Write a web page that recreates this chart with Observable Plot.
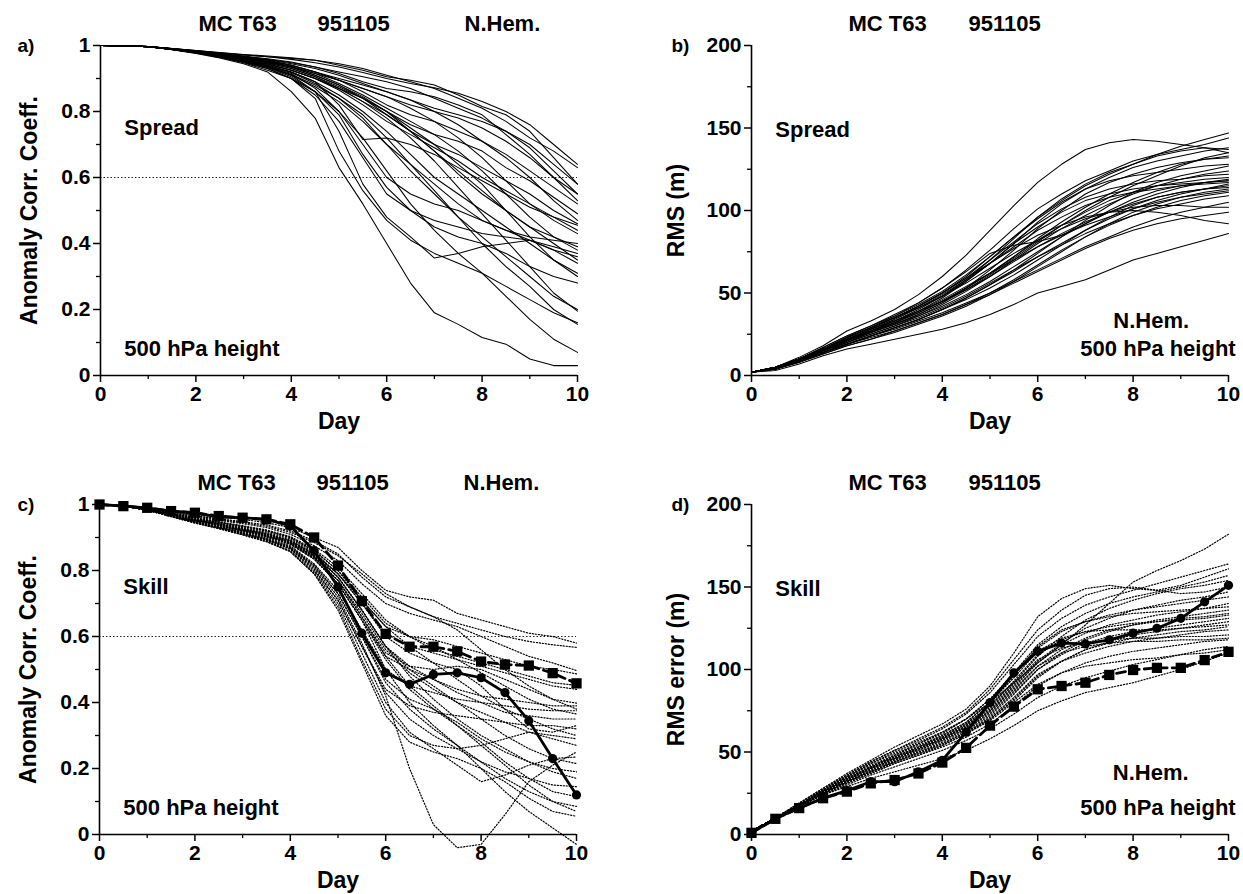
<!DOCTYPE html>
<html><head><meta charset="utf-8">
<script src="https://cdn.jsdelivr.net/npm/d3@7"></script>
<script src="https://cdn.jsdelivr.net/npm/@observablehq/plot@0.6"></script>
<style>
body{margin:0;background:#fff;}
#wrap{position:relative;width:1243px;height:894px;overflow:hidden;background:#fff;}
#wrap svg{position:absolute;}
</style></head><body><div id="wrap"></div>
<script>
// ---- data (days at 12-hour steps) ----
const days = [0,0.5,1,1.5,2,2.5,3,3.5,4,4.5,5,5.5,6,6.5,7,7.5,8,8.5,9,9.5,10];
const majorDays = [0,2,4,6,8,10];
const minorDays = [1,3,5,7,9];
const accTicks = [0,0.2,0.4,0.6,0.8,1];
const accMinor = [0.1,0.3,0.5,0.7,0.9];
const rmsTicks = [0,50,100,150,200];
const rmsMinor = [25,75,125,175];

// a) anomaly correlation, spread (ensemble members vs control)
const accSpread = [
[1,.999,.997,.991,.984,.977,.971,.966,.961,.955,.945,.93,.91,.89,.87,.84,.81,.77,.72,.68,.63],
[1,.999,.997,.991,.985,.979,.973,.968,.963,.955,.94,.925,.905,.895,.88,.85,.815,.79,.74,.66,.58],
[1,.999,.996,.99,.982,.974,.965,.955,.94,.92,.9,.88,.86,.835,.81,.79,.77,.74,.7,.64,.58],
[1,.999,.996,.989,.981,.972,.962,.95,.935,.915,.895,.87,.845,.82,.8,.78,.75,.71,.66,.6,.55],
[1,.999,.997,.99,.983,.976,.968,.96,.95,.935,.915,.89,.87,.86,.845,.82,.79,.73,.67,.6,.53],
[1,.999,.996,.99,.982,.973,.963,.952,.94,.92,.895,.86,.82,.79,.77,.74,.71,.67,.62,.57,.52],
[1,.999,.996,.989,.98,.97,.958,.945,.925,.9,.87,.84,.8,.76,.73,.71,.68,.63,.59,.54,.49],
[1,.999,.997,.99,.983,.975,.966,.957,.945,.93,.91,.885,.86,.835,.8,.76,.71,.66,.6,.53,.47],
[1,.999,.996,.989,.981,.972,.962,.95,.935,.91,.88,.84,.79,.74,.7,.67,.63,.59,.55,.5,.46],
[1,.999,.996,.988,.979,.968,.955,.94,.92,.89,.82,.715,.72,.7,.67,.63,.59,.55,.51,.48,.455],
[1,.999,.996,.989,.98,.97,.958,.944,.925,.9,.865,.82,.77,.73,.69,.65,.6,.56,.52,.48,.44],
[1,.999,.997,.99,.982,.974,.965,.955,.94,.92,.895,.87,.845,.81,.77,.72,.66,.59,.52,.47,.43],
[1,.999,.996,.988,.978,.966,.952,.935,.91,.875,.83,.77,.7,.64,.58,.52,.47,.44,.42,.41,.40],
[1,.999,.996,.989,.98,.969,.957,.943,.925,.9,.87,.83,.79,.74,.68,.62,.56,.5,.45,.42,.39],
[1,.999,.997,.99,.982,.973,.963,.952,.937,.915,.885,.85,.81,.77,.73,.68,.62,.55,.48,.42,.38],
[1,.999,.996,.988,.978,.967,.954,.938,.915,.87,.8,.7,.6,.55,.52,.5,.47,.44,.41,.39,.37],
[1,.999,.996,.988,.977,.965,.95,.93,.9,.85,.77,.66,.55,.5,.47,.45,.43,.42,.41,.38,.36],
[1,.999,.997,.99,.982,.973,.963,.95,.935,.91,.88,.845,.8,.74,.68,.61,.55,.5,.45,.4,.35],
[1,.999,.996,.988,.978,.966,.952,.935,.91,.86,.74,.58,.48,.42,.356,.37,.39,.4,.41,.38,.34],
[1,.999,.996,.989,.98,.969,.956,.94,.92,.89,.85,.8,.74,.67,.6,.55,.5,.45,.4,.35,.31],
[1,.999,.997,.99,.982,.972,.961,.948,.93,.905,.875,.84,.8,.75,.7,.64,.58,.5,.42,.35,.30],
[1,.999,.996,.988,.978,.966,.951,.933,.905,.86,.79,.67,.57,.5,.45,.42,.4,.37,.33,.3,.28],
[1,.999,.996,.989,.979,.968,.955,.94,.918,.885,.84,.78,.7,.62,.55,.48,.42,.36,.3,.24,.20],
[1,.999,.997,.99,.981,.971,.96,.947,.93,.905,.87,.83,.78,.72,.65,.57,.49,.41,.33,.25,.195],
[1,.999,.996,.988,.977,.964,.948,.925,.9,.84,.68,.56,.47,.41,.37,.34,.31,.27,.23,.19,.16],
[1,.999,.996,.989,.979,.967,.953,.936,.912,.88,.84,.79,.72,.64,.56,.48,.4,.33,.27,.2,.155],
[1,.999,.996,.988,.978,.965,.95,.93,.9,.86,.8,.72,.62,.52,.44,.37,.31,.24,.17,.11,.07],
[1,.999,.996,.987,.976,.962,.945,.92,.86,.78,.63,.52,.4,.28,.19,.155,.115,.095,.05,.03,.03],
[1,.999,.997,.991,.985,.978,.972,.966,.958,.948,.935,.918,.9,.885,.872,.855,.83,.8,.76,.7,.64],
[1,.999,.997,.99,.983,.975,.967,.958,.948,.935,.92,.905,.89,.87,.84,.81,.78,.74,.69,.62,.55]
];

// b) rms difference (m), spread
const rmsSpread = [
[2,5,11,18,27,33,40,49,60,73,88,103,117,128,137,141,143,142,140,138,135],
[2,5,10,16,23,29,35,42,50,60,72,84,96,106,115,122,128,134,139,143,147],
[2,5,10,17,24,30,37,44,53,64,76,89,101,110,118,124,130,134,137,140,144],
[2,5,10,16,23,29,35,41,48,57,68,80,93,104,113,120,126,130,133,136,138],
[2,4,9,15,21,27,33,40,48,58,70,83,96,107,116,123,128,133,136,138,137],
[2,5,10,16,22,27,32,38,45,53,62,72,82,91,100,108,115,121,127,132,135],
[2,4,9,15,21,26,31,37,44,53,64,76,89,100,110,117,122,126,129,131,132],
[2,5,10,17,24,30,36,43,51,61,72,84,95,105,113,118,121,123,125,127,128],
[2,4,9,14,20,25,30,36,43,51,60,70,80,89,97,104,110,115,119,122,124],
[2,5,10,16,23,29,35,42,50,59,70,81,92,101,108,113,116,118,119,121,122],
[2,4,9,15,21,26,31,36,42,49,57,66,75,84,92,99,105,110,114,117,119],
[2,5,10,16,22,28,34,41,49,58,68,78,88,96,103,108,111,113,115,117,118],
[2,4,9,14,19,24,29,34,40,47,55,63,72,80,88,95,101,106,110,113,116],
[2,4,8,14,19,24,29,34,40,46,53,61,70,79,88,96,103,108,111,113,114],
[2,5,10,16,22,27,33,39,46,54,62,70,78,85,91,96,101,105,108,110,112],
[2,4,9,15,20,25,30,35,41,48,56,64,72,79,86,92,97,102,106,109,111],
[2,4,9,14,19,24,28,33,38,44,50,57,64,71,78,84,90,95,99,102,105],
[2,5,10,16,22,28,34,41,48,56,65,74,82,89,95,99,102,103,103,102,102],
[2,4,8,13,18,22,27,32,37,43,49,56,63,70,77,83,88,92,95,97,99],
[2,5,10,16,23,29,35,42,50,59,68,77,85,91,96,99,100,99,97,94,92],
[2,3,7,12,16,19,22,25,28,32,37,43,50,54,58,64,70,74,78,82,86],
[2,4,9,15,20,26,32,39,47,57,68,80,90,99,106,110,113,115,116,117,118],
[2,4,8,13,18,22,26,31,36,42,49,57,66,75,84,92,99,104,108,111,113],
[2,5,10,15,21,26,31,37,44,52,61,71,81,91,99,106,111,115,117,119,120],
[2,4,9,14,19,24,29,34,40,47,55,64,74,84,94,103,111,117,121,124,127],
[2,4,9,14,19,23,27,32,37,43,50,58,67,76,84,91,97,101,104,107,109],
[2,5,10,16,22,28,33,39,45,52,60,69,78,86,93,99,104,108,111,113,115],
[2,4,9,15,21,27,32,38,45,53,62,72,83,93,102,110,117,123,128,131,133],
[2,5,10,16,23,29,36,44,53,63,74,79,81,85,92,100,107,112,115,116,117]
];

// c) anomaly correlation, skill of ensemble members (dotted)
const accSkill = [
[1,.997,.99,.98,.97,.962,.955,.945,.93,.9,.87,.8,.74,.72,.71,.67,.65,.63,.61,.6,.58],
[1,.997,.99,.978,.966,.957,.948,.938,.92,.89,.85,.78,.72,.69,.66,.64,.62,.6,.585,.575,.567],
[1,.996,.988,.975,.962,.952,.942,.93,.91,.875,.83,.76,.7,.67,.65,.63,.6,.57,.54,.52,.497],
[1,.996,.987,.972,.958,.946,.934,.92,.9,.86,.8,.71,.63,.6,.59,.57,.55,.53,.51,.5,.487],
[1,.996,.987,.973,.96,.948,.936,.923,.903,.865,.81,.73,.65,.6,.56,.54,.52,.5,.48,.46,.452],
[1,.996,.986,.97,.955,.942,.928,.913,.892,.85,.79,.7,.61,.57,.55,.53,.51,.49,.47,.45,.44],
[1,.996,.985,.968,.952,.938,.922,.906,.884,.84,.77,.66,.55,.51,.5,.51,.5,.47,.44,.41,.398],
[1,.996,.986,.97,.955,.941,.926,.91,.888,.845,.78,.68,.57,.51,.47,.44,.42,.41,.4,.39,.39],
[1,.996,.985,.967,.95,.935,.918,.9,.875,.82,.74,.62,.5,.45,.43,.41,.4,.39,.38,.375,.375],
[1,.996,.987,.972,.958,.946,.933,.92,.9,.86,.8,.72,.64,.6,.57,.53,.49,.45,.41,.38,.365],
[1,.996,.985,.968,.952,.937,.921,.904,.88,.835,.76,.65,.54,.5,.47,.43,.4,.37,.36,.35,.35],
[1,.995,.984,.965,.946,.93,.912,.893,.865,.8,.71,.57,.44,.39,.37,.36,.35,.34,.33,.33,.32],
[1,.996,.986,.97,.955,.94,.925,.91,.89,.85,.79,.71,.63,.57,.52,.47,.42,.38,.35,.32,.3],
[1,.995,.983,.963,.944,.927,.908,.888,.858,.79,.69,.53,.38,.3,.27,.26,.27,.29,.31,.3,.29],
[1,.996,.985,.968,.952,.938,.922,.906,.884,.84,.77,.67,.56,.49,.44,.4,.37,.34,.31,.29,.27],
[1,.995,.983,.964,.945,.928,.91,.89,.86,.795,.7,.55,.4,.31,.26,.21,.16,.18,.21,.23,.235],
[1,.996,.986,.97,.955,.941,.926,.911,.89,.85,.78,.68,.57,.5,.45,.4,.35,.3,.26,.23,.215],
[1,.995,.984,.966,.948,.932,.915,.897,.872,.815,.73,.6,.47,.41,.38,.34,.29,.25,.22,.2,.19],
[1,.996,.985,.969,.953,.939,.924,.908,.886,.845,.78,.68,.57,.48,.41,.35,.3,.26,.22,.19,.17],
[1,.995,.983,.965,.946,.93,.912,.893,.866,.805,.71,.57,.43,.35,.3,.26,.22,.19,.17,.15,.145],
[1,.996,.985,.968,.951,.936,.92,.903,.88,.835,.76,.65,.53,.44,.38,.33,.28,.22,.17,.13,.115],
[1,.995,.984,.966,.948,.932,.915,.896,.87,.815,.73,.6,.46,.38,.32,.27,.22,.17,.13,.1,.085],
[1,.996,.986,.969,.953,.938,.923,.907,.885,.842,.77,.66,.54,.45,.39,.33,.27,.21,.15,.1,.07],
[1,.995,.983,.964,.944,.927,.908,.887,.857,.79,.68,.52,.36,.28,.25,.23,.2,.16,.11,.07,.055],
[1,.995,.984,.965,.947,.931,.913,.894,.868,.81,.72,.58,.42,.2,.03,-.04,-.03,.06,.16,.21,.25],
[1,.996,.985,.968,.951,.936,.92,.903,.88,.835,.76,.65,.5,.4,.33,.27,.2,.13,.07,.02,-.03],
[1,.997,.989,.977,.965,.955,.945,.934,.916,.885,.845,.79,.73,.69,.66,.62,.56,.5,.45,.41,.38],
[1,.996,.986,.971,.957,.944,.93,.916,.896,.855,.79,.7,.6,.55,.52,.5,.45,.38,.32,.31,.33]
];
const accCtrl = [1,.995,.99,.98,.975,.962,.96,.955,.935,.86,.75,.61,.49,.455,.485,.49,.475,.43,.345,.23,.12];
const accMean = [1,.995,.99,.98,.975,.965,.96,.955,.94,.9,.815,.707,.608,.569,.569,.555,.524,.515,.512,.489,.458];

// d) rms error (m), skill of ensemble members (dotted)
const rmsSkill = [
[2,10,18,26,34,41,48,55,62,70,80,92,104,115,127,140,153,160,166,173,182],
[2,10,18,27,36,44,51,57,64,73,86,103,120,131,139,144,148,152,156,160,164],
[2,10,19,28,37,45,53,60,67,76,90,110,132,143,149,151,149,148,151,156,161],
[2,10,18,27,35,43,50,56,62,70,82,98,115,126,134,140,144,147,150,153,157],
[2,10,18,26,34,41,47,53,59,67,78,92,108,120,130,137,142,146,149,151,154],
[2,10,19,28,36,44,51,58,65,74,88,106,124,136,145,149,150,148,146,147,150],
[2,10,18,26,33,40,46,52,58,66,76,90,105,116,125,131,136,139,142,144,147],
[2,10,18,27,35,43,49,55,61,70,82,97,113,123,129,133,136,138,140,142,144],
[2,10,18,26,33,40,46,52,58,65,75,89,104,115,122,127,130,133,135,137,140],
[2,10,19,27,35,42,48,54,60,68,80,96,114,124,129,132,134,135,136,137,138],
[2,10,17,25,32,38,44,50,56,63,72,85,100,110,118,123,127,130,132,134,136],
[2,10,18,26,34,41,47,53,59,67,78,93,109,118,123,126,128,129,130,131,133],
[2,10,18,25,32,39,45,51,57,64,73,86,100,109,116,120,123,125,127,129,131],
[2,10,17,25,31,37,43,48,54,61,70,82,96,105,112,117,121,123,125,127,129],
[2,10,18,26,34,41,47,53,60,68,80,95,111,119,123,124,124,124,125,126,127],
[2,10,17,25,32,38,44,50,55,62,71,83,97,105,110,114,117,119,121,123,124],
[2,10,18,26,33,40,46,52,58,66,77,91,106,113,116,118,119,119,120,120,121],
[2,10,17,24,31,37,43,48,53,59,67,78,90,98,104,108,111,113,115,117,118],
[2,10,17,24,30,36,41,46,51,57,64,73,83,90,95,99,103,106,109,112,114],
[2,10,17,25,32,38,44,49,54,61,69,80,91,98,102,104,106,107,109,110,112],
[2,10,17,24,29,34,38,42,46,51,58,66,75,81,86,89,92,96,100,105,110],
[2,10,18,26,33,40,46,52,58,65,75,88,102,110,114,116,117,117,118,118,119],
[2,10,18,25,32,39,45,51,57,64,74,87,102,112,119,124,127,129,131,132,134],
[2,10,17,25,32,38,44,49,55,62,70,81,95,105,112,116,119,121,123,124,126]
];
const rmsCtrl = [1,9.7,16,22,26.6,32,32,38,45,62,80,98,111,116,115.5,118,122,125,131,141,151];
const rmsMean = [1,9.5,16,22,26,31,33,37,43.6,52.5,66,77.5,88,90,92,96.7,99.7,101,101,105.7,110.7];

// ---- drawing ----
const FONT = "'Liberation Sans', Arial, Helvetica, sans-serif";
const toLong = (rows) => rows.flatMap((r, m) => r.map((v, j) => ({member: m, day: days[j], value: v})));
const toPts = (r) => r.map((v, j) => ({day: days[j], value: v}));
const B = {fontWeight: "bold", fill: "black"};

function panel(cfg) {
  const W = cfg.w, H = cfg.h;
  const marks = [];
  if (cfg.ref != null) marks.push(Plot.ruleY([cfg.ref], {stroke: "#222", strokeWidth: 1, strokeDasharray: "1.5,2"}));
  const lineOpts = {x: "day", y: "value", z: "member", stroke: "#000", strokeWidth: cfg.dotted ? 1.2 : 1.05};
  if (cfg.dotted) lineOpts.strokeDasharray = "1.2,1.8";
  marks.push(Plot.line(toLong(cfg.members), lineOpts));
  if (cfg.ctrl) {
    const c = toPts(cfg.ctrl), m = toPts(cfg.mean);
    marks.push(Plot.line(m, {x: "day", y: "value", stroke: "#000", strokeWidth: 2.8, strokeDasharray: "9,5"}));
    marks.push(Plot.dot(m, {x: "day", y: "value", symbol: "square", r: 5.8, fill: "#000", stroke: "none"}));
    marks.push(Plot.line(c, {x: "day", y: "value", stroke: "#000", strokeWidth: 2.8}));
    marks.push(Plot.dot(c, {x: "day", y: "value", r: 4.6, fill: "#000", stroke: "none"}));
  }
  marks.push(
    Plot.ruleX([0], {stroke: "#000", strokeWidth: 1.6}),
    Plot.ruleY([cfg.yDomain[0]], {stroke: "#000", strokeWidth: 1.6}),
    Plot.axisX({ticks: majorDays, tickSize: 7, tickPadding: 4, tickFormat: d => String(d), fontSize: 21, fontWeight: "bold", label: null, strokeWidth: 1.5}),
    Plot.axisX({ticks: minorDays, tickSize: 4, tickFormat: () => "", label: null, strokeWidth: 1.3}),
    Plot.axisY({ticks: cfg.yTicks, tickSize: 7, tickPadding: 3, tickFormat: d => String(d), fontSize: 21, fontWeight: "bold", label: null, strokeWidth: 1.5}),
    Plot.axisY({ticks: cfg.yMinor, tickSize: 4, tickFormat: () => "", label: null, strokeWidth: 1.3}),
    Plot.text(["Day"], {frameAnchor: "bottom", dy: 46, textAnchor: "middle", lineAnchor: "middle", fontSize: 23, ...B}),
    Plot.text([cfg.ylabel], {frameAnchor: "left", dx: cfg.ylabelDx, rotate: -90, textAnchor: "middle", lineAnchor: "middle", fontSize: 23, ...B}),
    Plot.text([cfg.letter], {frameAnchor: "top-left", dx: cfg.letterDx, dy: 0, textAnchor: "start", lineAnchor: "middle", fontSize: 19, ...B})
  );
  for (const t of cfg.titles) marks.push(Plot.text([t.t], {frameAnchor: "top-left", dx: t.dx, dy: -22, textAnchor: "start", lineAnchor: "middle", fontSize: 22, ...B}));
  for (const n of cfg.notes) marks.push(Plot.text([n], {x: "x", y: "y", text: "t", textAnchor: n.a, lineAnchor: "middle", fontSize: 22, ...B}));

  const svg = Plot.plot({
    width: W, height: H,
    marginLeft: cfg.ml, marginRight: W - cfg.ml - 477, marginTop: cfg.mt, marginBottom: H - cfg.mt - 330,
    x: {domain: [0, 10]},
    y: {domain: cfg.yDomain},
    style: {fontFamily: FONT, color: "black", background: "transparent", overflow: "visible"},
    marks
  });
  svg.style.left = cfg.left + "px";
  svg.style.top = cfg.top + "px";
  svg.style.maxWidth = "none";
  document.getElementById("wrap").appendChild(svg);
}

const titlesNH = [{t: "MC T63", dx: 98}, {t: "951105", dx: 217}, {t: "N.Hem.", dx: 364}];
const titles2 = [{t: "MC T63", dx: 97}, {t: "951105", dx: 217}];

panel({left: 0, top: 0, w: 620, h: 445, ml: 100, mt: 45,
  members: accSpread, yDomain: [0, 1], yTicks: accTicks, yMinor: accMinor, ref: 0.6,
  ylabel: "Anomaly Corr. Coeff.", ylabelDx: -71, letter: "a)", letterDx: -83, titles: titlesNH,
  notes: [{x: 0.5, y: 0.75, t: "Spread", a: "start"}, {x: 0.5, y: 0.08, t: "500 hPa height", a: "start"}]});

panel({left: 620, top: 0, w: 623, h: 445, ml: 131, mt: 45,
  members: rmsSpread, yDomain: [0, 200], yTicks: rmsTicks, yMinor: rmsMinor,
  ylabel: "RMS (m)", ylabelDx: -75, letter: "b)", letterDx: -80, titles: titles2,
  notes: [{x: 0.5, y: 149, t: "Spread", a: "start"}, {x: 8.38, y: 33, t: "N.Hem.", a: "middle"}, {x: 10.15, y: 16, t: "500 hPa height", a: "end"}]});

panel({left: 0, top: 445, w: 620, h: 449, ml: 99, mt: 59,
  members: accSkill, dotted: true, ctrl: accCtrl, mean: accMean, yDomain: [0, 1], yTicks: accTicks, yMinor: accMinor, ref: 0.6,
  ylabel: "Anomaly Corr. Coeff.", ylabelDx: -71, letter: "c)", letterDx: -82, titles: titlesNH,
  notes: [{x: 0.5, y: 0.75, t: "Skill", a: "start"}, {x: 0.5, y: 0.08, t: "500 hPa height", a: "start"}]});

panel({left: 620, top: 445, w: 623, h: 449, ml: 131, mt: 59,
  members: rmsSkill, dotted: true, ctrl: rmsCtrl, mean: rmsMean, yDomain: [0, 200], yTicks: rmsTicks, yMinor: rmsMinor,
  ylabel: "RMS error (m)", ylabelDx: -75, letter: "d)", letterDx: -80, titles: titles2,
  notes: [{x: 0.5, y: 149, t: "Skill", a: "start"}, {x: 8.37, y: 37, t: "N.Hem.", a: "middle"}, {x: 10.15, y: 16, t: "500 hPa height", a: "end"}]});
</script></body></html>
